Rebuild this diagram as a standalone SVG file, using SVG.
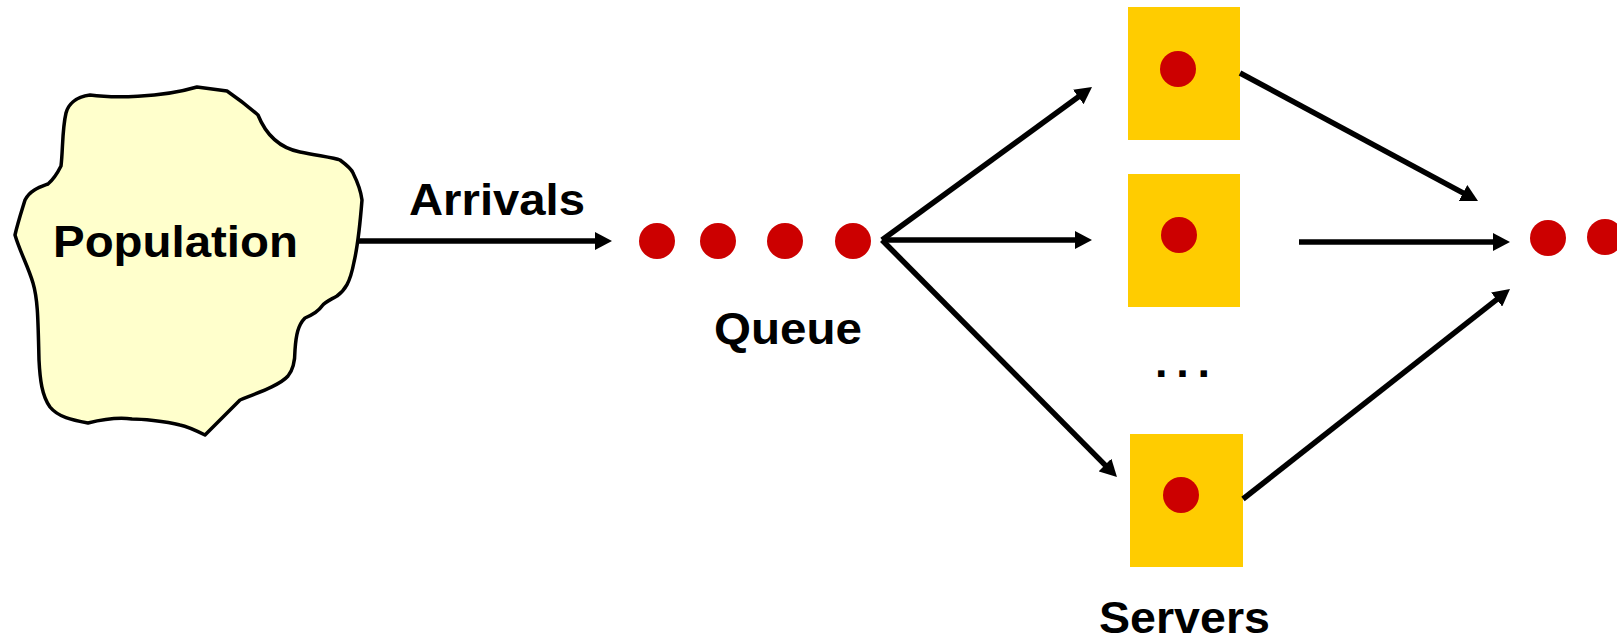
<svg xmlns="http://www.w3.org/2000/svg" width="1617" height="640" viewBox="0 0 1617 640">
  <style>
    .label { font-family: "Liberation Sans", Arial, sans-serif; font-weight: bold; font-size: 45px; fill: #000; }
    .blob { fill: #FFFFCC; stroke: #000; stroke-width: 3.5; stroke-linejoin: round; }
    .server { fill: #FFCC00; }
    .job { fill: #CC0000; }
    .edge { stroke: #000; stroke-width: 5.5; fill: none; marker-end: url(#head); }
  </style>
  <defs>
    <marker id="head" viewBox="0 0 17 18" refX="2" refY="9" markerWidth="17" markerHeight="18" markerUnits="userSpaceOnUse" orient="auto">
      <path d="M0,0 L17,9 L0,18 Z" fill="#000"/>
    </marker>
  </defs>
  <rect width="1617" height="640" fill="#fff"/>

  <!-- source population -->
  <g id="population">
    <path class="blob" d="M90,95 C112,98 160,98 197,87 L227,91 C240,100 250,108 258,115 C266,135 280,148 300,152 C320,156 335,158 340,160 C348,166 352,170 353,173 C358,183 361,192 362,200 C360,225 358,245 354,262 C350,283 345,290 337,296 C328,301 325,302 322,306 C318,312 312,315 305,318 C298,325 296,335 295,350 C295,362 293,370 288,376 C280,385 260,392 240,400 L205,435 C195,430 185,426 180,425 C165,421 140,419 132,419 C118,417 100,420 88,423 C72,420 58,417 50,407 C42,396 40,380 39,360 C38,320 38,300 33,283 C28,266 20,252 15,235 C18,222 22,210 25,200 C30,190 40,187 48,184 C55,178 58,172 61,166 C63,150 62,130 66,113 C68,105 75,97 90,95 Z"/>
    <text class="label" x="53" y="257" font-size="47" textLength="245" lengthAdjust="spacingAndGlyphs">Population</text>
  </g>

  <g id="arrivals-label">
    <text class="label" x="409" y="215" textLength="176" lengthAdjust="spacingAndGlyphs">Arrivals</text>
  </g>

  <!-- waiting line -->
  <g id="queue">
    <circle class="job" cx="657" cy="241" r="18"/>
    <circle class="job" cx="718" cy="241" r="18"/>
    <circle class="job" cx="785" cy="241" r="18"/>
    <circle class="job" cx="853" cy="241" r="18"/>
    <text class="label" x="714" y="344" textLength="148" lengthAdjust="spacingAndGlyphs">Queue</text>
  </g>

  <!-- service stations -->
  <g id="server-1">
    <rect class="server" x="1128" y="7" width="112" height="133"/>
    <circle class="job" cx="1178" cy="69" r="18"/>
  </g>
  <g id="server-2">
    <rect class="server" x="1128" y="174" width="112" height="133"/>
    <circle class="job" cx="1179" cy="235" r="18"/>
  </g>
  <g id="server-more">
    <text class="label" x="1155" y="377" font-size="44" letter-spacing="8.8">...</text>
  </g>
  <g id="server-n">
    <rect class="server" x="1130" y="434" width="113" height="133"/>
    <circle class="job" cx="1181" cy="495" r="18"/>
  </g>
  <g id="servers-label">
    <text class="label" x="1099" y="633" textLength="171" lengthAdjust="spacingAndGlyphs">Servers</text>
  </g>

  <!-- departures -->
  <g id="departures">
    <circle class="job" cx="1548" cy="238" r="18"/>
    <circle class="job" cx="1605" cy="237" r="18"/>
  </g>

  <g id="connectors">
    <line class="edge" x1="359" y1="241" x2="597" y2="241"/>
    <line class="edge" x1="882" y1="240" x2="1079.9" y2="95.8"/>
    <line class="edge" x1="882" y1="240" x2="1077" y2="240"/>
    <line class="edge" x1="882" y1="240" x2="1106.4" y2="466.4"/>
    <line class="edge" x1="1240" y1="73" x2="1464.8" y2="193.9"/>
    <line class="edge" x1="1299" y1="242" x2="1495" y2="242"/>
    <line class="edge" x1="1243" y1="499" x2="1498.2" y2="298.3"/>
  </g>
</svg>
